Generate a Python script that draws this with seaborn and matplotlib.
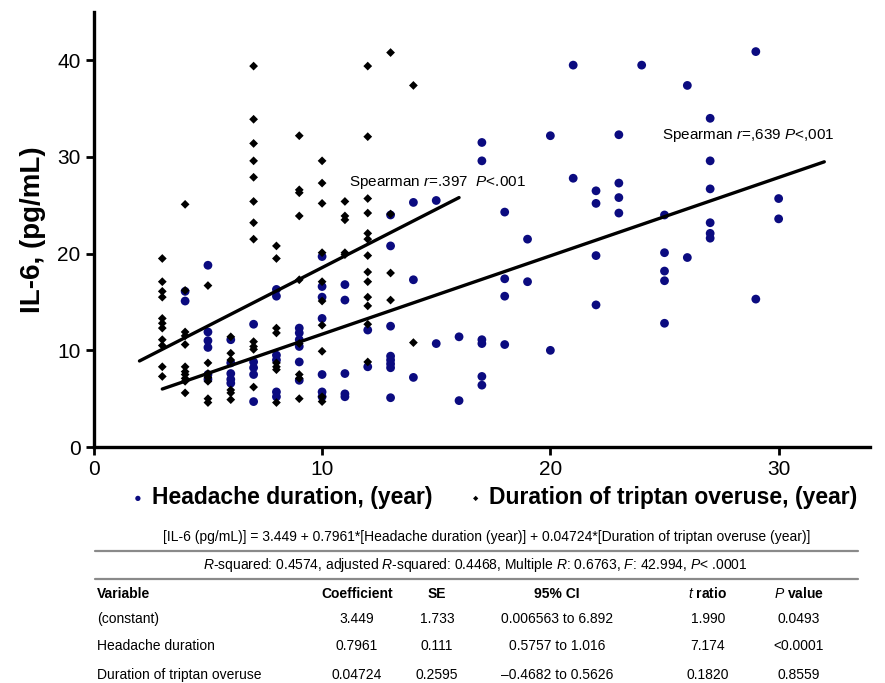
import numpy as np
import pandas as pd
import seaborn as sns
import matplotlib.pyplot as plt

# headache duration (years) vs IL-6 (pg/mL)
head_x = ([4]*2 + [5]*6 + [6]*5 + [7]*5 + [8]*6 + [9]*6 + [10]*7 + [11]*5 + [12]*2 + [13]*8 +
          [14]*3 + [15]*2 + [16]*2 + [17]*6 + [18]*4 + [19]*2 + [20]*2 + [21]*2 + [22]*4 + [23]*4 +
          [24]*1 + [25]*5 + [26]*2 + [27]*6 + [29]*2 + [30]*2)
head_y = [16.1, 15.1,
          18.8, 11.9, 11.0, 10.3, 7.5, 7.0,
          11.1, 8.7, 7.6, 7.0, 6.6,
          12.7, 8.8, 8.2, 7.5, 4.7,
          16.3, 15.6, 9.5, 9.0, 5.7, 5.2,
          12.3, 11.8, 11.1, 10.4, 8.8, 6.9,
          19.7, 16.6, 15.5, 13.3, 7.5, 5.7, 5.2,
          16.8, 15.2, 7.6, 5.5, 5.2,
          12.1, 8.3,
          24.0, 20.8, 12.5, 9.4, 9.0, 8.6, 8.2, 5.1,
          25.3, 17.3, 7.2,
          25.5, 10.7,
          11.4, 4.8,
          31.5, 29.6, 11.1, 10.7, 7.3, 6.4,
          24.3, 17.4, 15.6, 10.6,
          21.5, 17.1,
          32.2, 10.0,
          39.5, 27.8,
          26.5, 25.2, 19.8, 14.7,
          32.3, 27.3, 25.8, 24.2,
          39.5,
          24.0, 20.1, 18.2, 17.2, 12.8,
          37.4, 19.6,
          34.0, 29.6, 26.7, 23.2, 22.1, 21.6,
          40.9, 15.3,
          25.7, 23.6]

# duration of triptan overuse (years) vs IL-6
trip_x = ([3]*11 + [4]*11 + [5]*7 + [6]*6 + [7]*12 + [8]*8 + [9]*9 + [10]*10 + [11]*5 +
          [12]*13 + [13]*4 + [14]*2)
trip_y = [19.5, 17.1, 16.1, 15.5, 13.3, 12.8, 12.3, 11.1, 10.5, 8.3, 7.3,
          25.1, 16.2, 11.9, 11.5, 10.6, 8.3, 7.8, 7.5, 7.1, 6.8, 5.6,
          16.7, 8.7, 7.6, 7.2, 6.8, 5.0, 4.6,
          11.4, 9.7, 9.0, 5.9, 5.6, 4.9,
          39.4, 33.9, 31.4, 29.6, 27.9, 25.4, 23.2, 21.5, 10.9, 10.4, 10.1, 6.2,
          20.8, 19.5, 12.3, 11.8, 8.7, 8.3, 8.0, 4.6,
          32.2, 26.6, 26.3, 23.9, 17.3, 10.7, 7.5, 7.1, 5.0,
          29.6, 27.3, 25.2, 20.1, 17.1, 15.1, 12.6, 9.9, 5.2, 4.7,
          25.4, 23.9, 23.5, 20.1, 19.9,
          39.4, 32.1, 25.7, 24.2, 22.1, 21.5, 19.8, 18.1, 17.1, 15.5, 14.6, 12.7, 8.8,
          40.8, 24.1, 18.0, 15.2,
          37.4, 10.8]

# fitted lines (end points)
fit_trip_x = [2, 16]
fit_trip_y = [8.9, 25.8]
fit_head_x = [3, 32]
fit_head_y = [6.0, 29.5]

table_cols = ["Variable", "Coefficient", "SE", "95% CI", "$\\it{t}$ ratio", "$\\it{P}$ value"]
table_rows = [
    ["(constant)", "3.449", "1.733", "0.006563 to 6.892", "1.990", "0.0493"],
    ["Headache duration", "0.7961", "0.111", "0.5757 to 1.016", "7.174", "<0.0001"],
    ["Duration of triptan overuse", "0.04724", "0.2595", "\u20130.4682 to 0.5626", "0.1820", "0.8559"],
]

head_df = pd.DataFrame({"x": head_x, "y": head_y})
trip_df = pd.DataFrame({"x": trip_x, "y": trip_y})

sns.set_style("ticks")
plt.rcParams["font.family"] = ["Liberation Sans", "DejaVu Sans"]
plt.rcParams["mathtext.fontset"] = "custom"
plt.rcParams["mathtext.rm"] = "Liberation Sans"
plt.rcParams["mathtext.it"] = "Liberation Sans:italic"
plt.rcParams["text.color"] = "black"
plt.rcParams["axes.labelcolor"] = "black"

fig = plt.figure(figsize=(8.85, 6.83), dpi=100)
ax = fig.add_axes([0.106, 0.3455, 0.877, 0.637])

sns.scatterplot(data=head_df, x="x", y="y", ax=ax, color="#0b0b80", marker="o", s=40,
                edgecolor="none", label="Headache duration, (year)", zorder=3)
sns.scatterplot(data=trip_df, x="x", y="y", ax=ax, color="black", marker="D", s=20,
                edgecolor="none", label="Duration of triptan overuse, (year)", zorder=3)
sns.lineplot(x=fit_trip_x, y=fit_trip_y, ax=ax, color="black", lw=2.4, zorder=4)
sns.lineplot(x=fit_head_x, y=fit_head_y, ax=ax, color="black", lw=2.4, zorder=4)

ax.text(11.2, 27.4, "Spearman $\\it{r}$=.397  $\\it{P}$<.001", fontsize=11, va="center")
ax.text(24.9, 32.2, "Spearman $\\it{r}$=,639 $\\it{P}$<,001", fontsize=11, va="center")

ax.set_xlim(0, 34)
ax.set_ylim(0, 45)
ax.set_xticks([0, 10, 20, 30])
ax.set_yticks([0, 10, 20, 30, 40])
ax.tick_params(labelsize=15, width=2, length=6, colors="black")
ax.set_xlabel("")
ax.set_ylabel("IL-6, (pg/mL)", fontsize=20, fontweight="bold", labelpad=8)
sns.despine(ax=ax)
for sp in ["left", "bottom"]:
    ax.spines[sp].set_linewidth(2.4)
    ax.spines[sp].set_color("black")

leg = ax.legend(loc="center", bbox_to_anchor=(0.556, 0.271), bbox_transform=fig.transFigure,
                ncol=2, frameon=False, markerscale=0.6, handletextpad=0.1, columnspacing=1.4,
                handlelength=1.0, prop={"weight": "bold", "size": 16.5})

# regression table under the chart
def fy(py):
    return 1 - py / 683

def fx(px):
    return px / 885

fig.text(fx(487), fy(537), "[IL-6 (pg/mL)] = 3.449 + 0.7961*[Headache duration (year)] + 0.04724*[Duration of triptan overuse (year)]",
         ha="center", va="center", fontsize=10)
fig.add_artist(plt.Line2D([fx(95), fx(858)], [fy(551), fy(551)], color="#8a8a8a", lw=1.6))
fig.text(fx(475), fy(565), "$\\it{R}$-squared: 0.4574, adjusted $\\it{R}$-squared: 0.4468, Multiple $\\it{R}$: 0.6763, $\\it{F}$: 42.994, $\\it{P}$< .0001",
         ha="center", va="center", fontsize=10)
fig.add_artist(plt.Line2D([fx(95), fx(858)], [fy(579), fy(579)], color="#8a8a8a", lw=1.6))

col_x = [97, 357, 437, 557, 708, 799]
for i, h in enumerate(table_cols):
    fig.text(fx(col_x[i]), fy(594), h, ha="left" if i == 0 else "center", va="center",
             fontsize=10, fontweight="bold")
row_y = [619, 646, 675]
for r, row in enumerate(table_rows):
    for i, v in enumerate(row):
        fig.text(fx(col_x[i]), fy(row_y[r]), v, ha="left" if i == 0 else "center", va="center",
                 fontsize=10)

fig.savefig("out.png", dpi=100)
